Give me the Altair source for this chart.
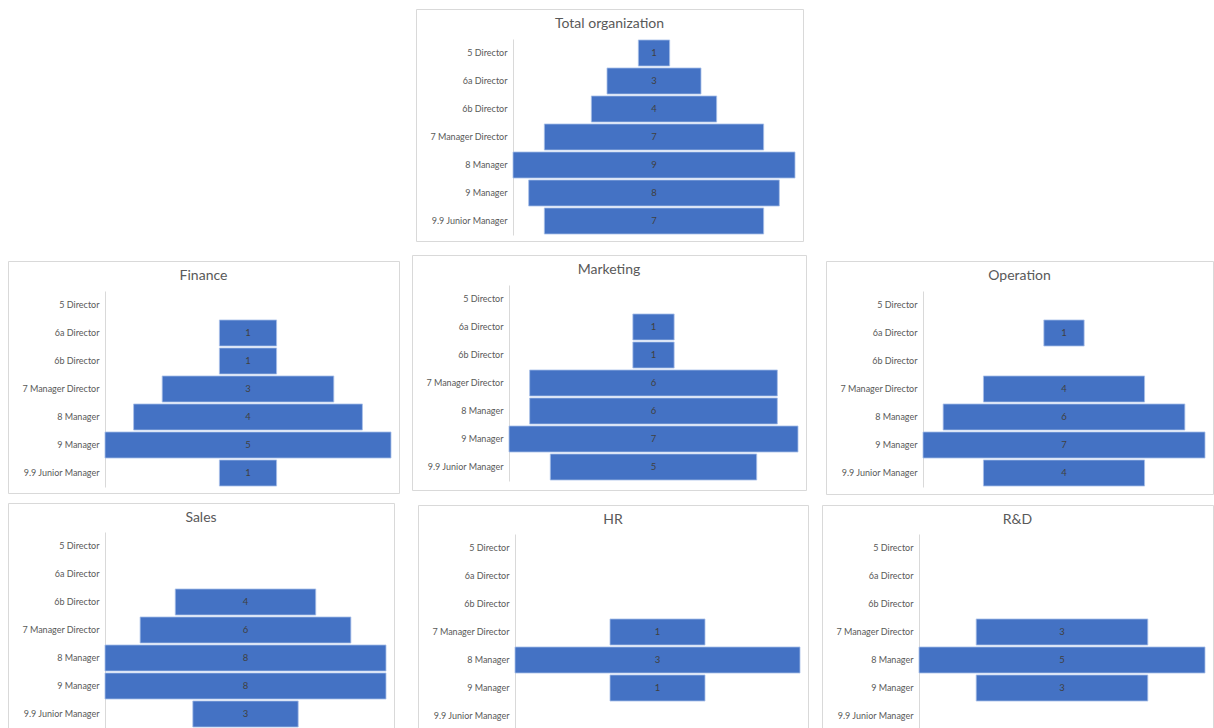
import altair as alt
import pandas as pd

# Job levels, top of the pyramid first
levels = [
    "5 Director",
    "6a Director",
    "6b Director",
    "7 Manager Director",
    "8 Manager",
    "9 Manager",
    "9.9 Junior Manager",
]

# Head count per level
total_org = [1, 3, 4, 7, 9, 8, 7]
finance = [0, 1, 1, 3, 4, 5, 1]
marketing = [0, 1, 1, 6, 6, 7, 5]
operation = [0, 1, 0, 4, 6, 7, 4]
sales = [0, 0, 4, 6, 8, 8, 3]
hr = [0, 0, 0, 1, 3, 1, 0]
rnd = [0, 0, 0, 3, 5, 3, 0]

BLUE = "#4472C4"
TEXT_GREY = "#595959"
LABEL_DARK = "#404040"
BORDER = "#d9d9d9"
FONT = "Lato"


def funnel(title, counts, width, height=232, top=30):
    """Centered horizontal bars (a funnel) inside a bordered panel."""
    df = pd.DataFrame({"level": levels, "count": counts})
    df = df[df["count"] > 0].copy()
    df["lo"] = -df["count"] / 2
    df["hi"] = df["count"] / 2
    df["mid"] = 0.0
    half = max(counts) / 2

    x_scale = alt.Scale(domain=[-half, half], range=[97, width - 8], nice=False, zero=False)
    y_scale = alt.Scale(domain=levels, range=[top, top + 196], paddingInner=0.07, paddingOuter=0.035)
    y_axis = alt.Axis(
        title=None,
        offset=-97,
        ticks=False,
        grid=False,
        domainColor=BORDER,
        labelFont=FONT,
        labelFontSize=9,
        labelColor=TEXT_GREY,
        labelPadding=6,
    )

    base = alt.Chart(df).encode(y=alt.Y("level:N", scale=y_scale, axis=y_axis))
    bars = base.mark_bar(color=BLUE, stroke="#a9c0e8", strokeWidth=0.8).encode(
        x=alt.X("lo:Q", scale=x_scale, axis=None),
        x2="hi:Q",
    )
    values = base.mark_text(font=FONT, fontSize=9.5, color=LABEL_DARK).encode(
        x=alt.X("mid:Q", scale=x_scale, axis=None),
        text="count:Q",
    )
    return alt.layer(bars, values).properties(
        width=width,
        height=height,
        title=alt.TitleParams(
            text=title,
            font=FONT,
            fontSize=14,
            fontWeight="normal",
            color=TEXT_GREY,
            anchor="middle",
            frame="group",
            baseline="middle",
            offset=-29,
        ),
    )


def gap(width, height):
    """Empty, borderless cell used to shift panels."""
    return alt.Chart(pd.DataFrame({"gap": []})).mark_point().properties(
        width=width,
        height=height,
        view=alt.ViewBackground(stroke="transparent", strokeWidth=0),
    )


row_top = alt.hconcat(gap(407, 20), funnel("Total organization", total_org, 387), spacing=0)

row_mid = alt.hconcat(
    alt.hconcat(
        alt.vconcat(gap(391, 5), funnel("Finance", finance, 391), spacing=0),
        funnel("Marketing", marketing, 394, height=235),
        spacing=11,
    ),
    alt.vconcat(gap(387, 5), funnel("Operation", operation, 387, height=233), spacing=0),
    spacing=18,
)

row_bottom = alt.hconcat(
    alt.hconcat(
        funnel("Sales", sales, 386, top=29),
        alt.vconcat(gap(390, 1), funnel("HR", hr, 390, top=29), spacing=0),
        spacing=22,
    ),
    alt.vconcat(gap(391, 1), funnel("R&D", rnd, 391, top=29), spacing=0),
    spacing=12,
)

chart = (
    alt.vconcat(
        alt.vconcat(row_top, row_mid, spacing=12),
        row_bottom,
        spacing=7,
    )
    .properties(padding={"left": 7, "top": 8, "right": 0, "bottom": -8}, background="white")
    .configure_view(stroke=BORDER, strokeWidth=1)
    .configure_concat(spacing=0)
)

chart.save("out.html", embed_options={"renderer": "svg", "actions": False})
